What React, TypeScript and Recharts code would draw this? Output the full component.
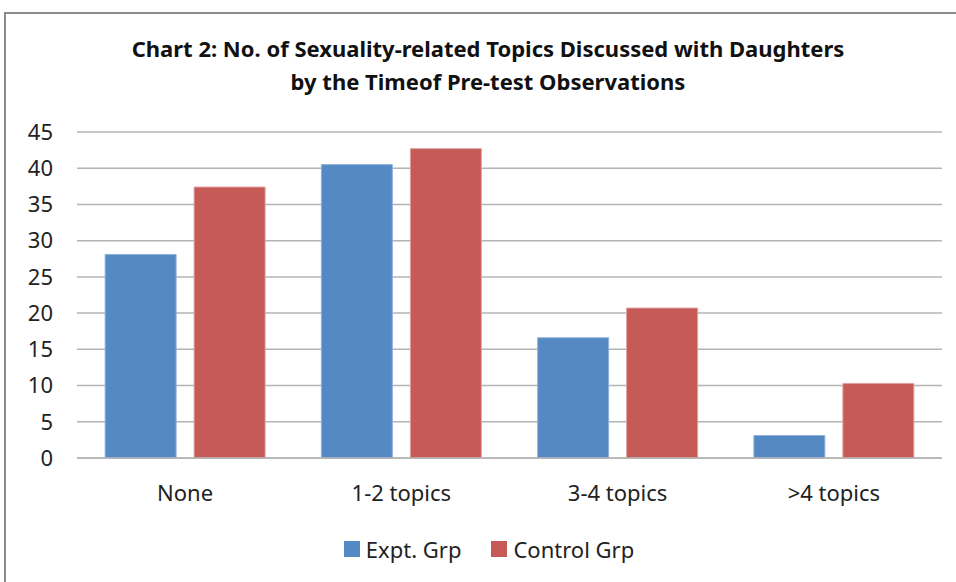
import { BarChart, Bar, XAxis, YAxis, CartesianGrid, Legend } from 'recharts';

const categories = ['None', '1-2 topics', '3-4 topics', '>4 topics'];
const exptValues = [28.1, 40.5, 16.6, 3.1];
const controlValues = [37.4, 42.7, 20.7, 10.3];
const yTicks = [0, 5, 10, 15, 20, 25, 30, 35, 40, 45];

const EXPT_COLOR = '#5589C4';
const CONTROL_COLOR = '#C65A57';
const FONT = "'Noto Sans', 'Open Sans', sans-serif";

const chartData = categories.map((name, i) => ({
  name,
  expt: exptValues[i],
  control: controlValues[i],
}));

function LegendContent() {
  const items = [
    { label: 'Expt. Grp', color: EXPT_COLOR },
    { label: 'Control Grp', color: CONTROL_COLOR },
  ];
  return (
    <div
      style={{
        display: 'flex',
        justifyContent: 'center',
        gap: 30,
        paddingLeft: 36,
        fontFamily: FONT,
        fontSize: 22,
        color: '#222',
      }}
    >
      {items.map((it) => (
        <div key={it.label} style={{ display: 'flex', alignItems: 'center' }}>
          <span style={{ display: 'inline-block', width: 16, height: 16, background: it.color, marginRight: 6 }} />
          <span>{it.label}</span>
        </div>
      ))}
    </div>
  );
}

export default function App() {
  return (
    <div style={{ position: 'absolute', left: 0, top: 0, width: 956, height: 582, background: '#fff', overflow: 'hidden' }}>
      <div
        style={{
          position: 'absolute',
          left: 4,
          top: 12,
          width: 1000,
          height: 700,
          borderLeft: '2px solid #8c8c8c',
          borderTop: '2px solid #8c8c8c',
        }}
      />
      <div
        style={{
          position: 'absolute',
          left: 0,
          top: 32,
          width: 976,
          textAlign: 'center',
          fontFamily: FONT,
          fontWeight: 700,
          fontSize: 22,
          lineHeight: '33px',
          color: '#111',
        }}
      >
        Chart 2: No. of Sexuality-related Topics Discussed with Daughters
        <br />
        by the Timeof Pre-test Observations
      </div>
      <div style={{ position: 'absolute', left: 0, top: 0 }}>
        <BarChart
          width={956}
          height={582}
          data={chartData}
          margin={{ top: 132, right: 14, bottom: 0, left: 0 }}
          barCategoryGap="13%"
          barGap={18}
        >
          <CartesianGrid vertical={false} stroke="#b4b4b4" strokeWidth={1.5} />
          <XAxis
            dataKey="name"
            axisLine={{ stroke: '#b4b4b4', strokeWidth: 1.5 }}
            tickLine={false}
            tick={{ fontSize: 22, fill: '#222', fontFamily: FONT }}
            height={76}
            dy={19}
          />
          <YAxis
            domain={[0, 45]}
            ticks={yTicks}
            axisLine={false}
            tickLine={false}
            tick={{ fontSize: 22, fill: '#222', fontFamily: FONT }}
            width={77}
            dx={-16}
          />
          <Legend
            verticalAlign="bottom"
            height={48}
            content={<LegendContent />}
          />
          <Bar dataKey="expt" name="Expt. Grp" fill={EXPT_COLOR} stroke="#8fb2dc" strokeWidth={1} isAnimationActive={false} />
          <Bar dataKey="control" name="Control Grp" fill={CONTROL_COLOR} stroke="#e0a09e" strokeWidth={1} isAnimationActive={false} />
        </BarChart>
      </div>
    </div>
  );
}
